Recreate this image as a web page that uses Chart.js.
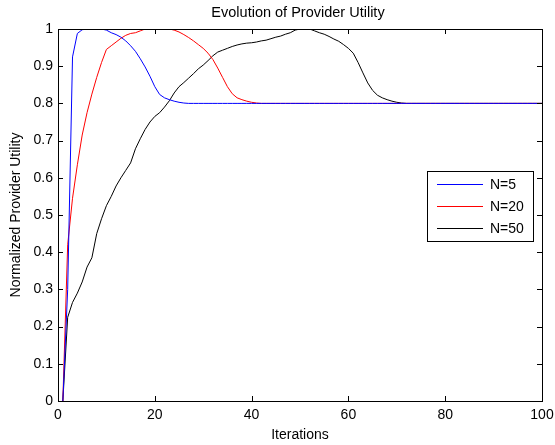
<!DOCTYPE html>
<html>
<head>
<meta charset="utf-8">
<script src="https://cdn.jsdelivr.net/npm/chart.js@4"></script>
<style>
html,body{margin:0;padding:0;background:#fff;}
canvas{display:block;}
</style>
</head>
<body>
<canvas id="c" width="555" height="445"></canvas>
<script>
const iterations = [];
for (let i = 1; i <= 100; i++) iterations.push(i);

const seriesLabels = ['N=5', 'N=20', 'N=50'];
const seriesColors = ['#0000ff', '#ff0000', '#000000'];

const utilN5 = [
  0, 0.30, 0.925, 0.988, 0.998, 1.0, 1.0, 1.0, 1.0, 0.997,
  0.99, 0.985, 0.978, 0.968, 0.955, 0.94, 0.92, 0.898, 0.873, 0.845,
  0.824, 0.815, 0.81, 0.806, 0.803, 0.801, 0.8, 0.8, 0.8, 0.8,
  0.8, 0.8, 0.8, 0.8, 0.8, 0.8, 0.8, 0.8, 0.8, 0.8,
  0.8, 0.8, 0.8, 0.8, 0.8, 0.8, 0.8, 0.8, 0.8, 0.8,
  0.8, 0.8, 0.8, 0.8, 0.8, 0.8, 0.8, 0.8, 0.8, 0.8,
  0.8, 0.8, 0.8, 0.8, 0.8, 0.8, 0.8, 0.8, 0.8, 0.8,
  0.8, 0.8, 0.8, 0.8, 0.8, 0.8, 0.8, 0.8, 0.8, 0.8,
  0.8, 0.8, 0.8, 0.8, 0.8, 0.8, 0.8, 0.8, 0.8, 0.8,
  0.8, 0.8, 0.8, 0.8, 0.8, 0.8, 0.8, 0.8, 0.8, 0.8
];

const utilN20 = [
  0, 0.42, 0.545, 0.635, 0.715, 0.775, 0.825, 0.87, 0.91, 0.945,
  0.955, 0.965, 0.975, 0.983, 0.988, 0.99, 0.995, 1.0, 1.0, 1.0,
  1.0, 1.0, 1.0, 0.997, 0.992, 0.985, 0.977, 0.968, 0.958, 0.948,
  0.935, 0.918, 0.895, 0.87, 0.845, 0.826, 0.815, 0.81, 0.806, 0.803,
  0.801, 0.8, 0.8, 0.8, 0.8, 0.8, 0.8, 0.8, 0.8, 0.8,
  0.8, 0.8, 0.8, 0.8, 0.8, 0.8, 0.8, 0.8, 0.8, 0.8,
  0.8, 0.8, 0.8, 0.8, 0.8, 0.8, 0.8, 0.8, 0.8, 0.8,
  0.8, 0.8, 0.8, 0.8, 0.8, 0.8, 0.8, 0.8, 0.8, 0.8,
  0.8, 0.8, 0.8, 0.8, 0.8, 0.8, 0.8, 0.8, 0.8, 0.8,
  0.8, 0.8, 0.8, 0.8, 0.8, 0.8, 0.8, 0.8, 0.8, 0.8
];

const utilN50 = [
  0, 0.225, 0.265, 0.29, 0.32, 0.36, 0.385, 0.45, 0.49, 0.525,
  0.55, 0.578, 0.6, 0.62, 0.64, 0.678, 0.705, 0.73, 0.75, 0.765,
  0.775, 0.79, 0.807, 0.828, 0.845, 0.856, 0.868, 0.88, 0.893, 0.903,
  0.915, 0.928, 0.938, 0.943, 0.948, 0.953, 0.957, 0.96, 0.962, 0.963,
  0.965, 0.968, 0.97, 0.974, 0.978, 0.981, 0.986, 0.99, 0.997, 1.0,
  1.0, 1.0, 0.995, 0.99, 0.986, 0.98, 0.973, 0.967, 0.958, 0.948,
  0.935, 0.91, 0.882, 0.855, 0.835, 0.822, 0.815, 0.81, 0.806, 0.803,
  0.801, 0.8, 0.8, 0.8, 0.8, 0.8, 0.8, 0.8, 0.8, 0.8,
  0.8, 0.8, 0.8, 0.8, 0.8, 0.8, 0.8, 0.8, 0.8, 0.8,
  0.8, 0.8, 0.8, 0.8, 0.8, 0.8, 0.8, 0.8, 0.8, 0.8
];

const xTickLabels = ['0', '20', '40', '60', '80', '100'];
const yTickLabels = ['0', '0.1', '0.2', '0.3', '0.4', '0.5', '0.6', '0.7', '0.8', '0.9', '1'];

const titleText = 'Evolution of Provider Utility';
const xTitle = 'Iterations';
const yTitle = 'Normalized Provider Utility';

const FONT = '"Liberation Sans", Arial, Helvetica, sans-serif';

function pts(vals) { return vals.map((v, i) => ({ x: iterations[i], y: v })); }

const boxPlugin = {
  id: 'matlabBox',
  afterDatasetsDraw(chart) {
    const { ctx, chartArea: a, scales } = chart;
    const xs = scales.x, ys = scales.y;
    ctx.save();
    ctx.strokeStyle = '#000';
    ctx.lineWidth = 1;
    // inward ticks
    ctx.beginPath();
    xs.ticks.forEach(t => {
      const px = Math.round(xs.getPixelForValue(t.value)) + 0.5;
      ctx.moveTo(px, a.bottom); ctx.lineTo(px, a.bottom - 5);
      ctx.moveTo(px, a.top); ctx.lineTo(px, a.top + 5);
    });
    ys.ticks.forEach(t => {
      const py = Math.round(ys.getPixelForValue(t.value)) + 0.5;
      ctx.moveTo(a.left, py); ctx.lineTo(a.left + 5, py);
      ctx.moveTo(a.right, py); ctx.lineTo(a.right - 5, py);
    });
    ctx.stroke();
    // box
    ctx.strokeRect(Math.round(a.left) + 0.5, Math.round(a.top) + 0.5,
      Math.round(a.right - a.left), Math.round(a.bottom - a.top));
    // title
    ctx.fillStyle = '#000';
    ctx.font = '14.5px ' + FONT;
    ctx.textAlign = 'center';
    ctx.textBaseline = 'alphabetic';
    ctx.fillText(titleText, (a.left + a.right) / 2 - 2, 17);
    // legend
    const lx = 427.5, ly = 171.5, lw = 106, lh = 70;
    ctx.fillStyle = '#fff';
    ctx.fillRect(lx, ly, lw, lh);
    ctx.strokeRect(lx, ly, lw, lh);
    const rows = [184.5, 206.5, 228.5];
    ctx.font = '14px ' + FONT;
    ctx.textBaseline = 'middle';
    ctx.textAlign = 'left';
    chart.data.datasets.forEach((ds, i) => {
      ctx.strokeStyle = ds.borderColor;
      ctx.beginPath();
      ctx.moveTo(437, rows[i]); ctx.lineTo(483, rows[i]);
      ctx.stroke();
      ctx.fillStyle = '#000';
      ctx.fillText(ds.label, 490, rows[i] + 0.5);
    });
    ctx.restore();
  }
};

new Chart(document.getElementById('c'), {
  type: 'line',
  data: {
    datasets: [
      { label: seriesLabels[0], data: pts(utilN5), borderColor: seriesColors[0] },
      { label: seriesLabels[1], data: pts(utilN20), borderColor: seriesColors[1] },
      { label: seriesLabels[2], data: pts(utilN50), borderColor: seriesColors[2] }
    ]
  },
  options: {
    responsive: false,
    animation: false,
    devicePixelRatio: 1,
    layout: { padding: { left: 0, right: 13, top: 29, bottom: 0 } },
    elements: {
      line: { borderWidth: 1, tension: 0, fill: false },
      point: { radius: 0, hoverRadius: 0 }
    },
    plugins: {
      legend: { display: false },
      tooltip: { enabled: false },
      title: { display: false }
    },
    scales: {
      x: {
        type: 'linear',
        min: 0, max: 100,
        grid: { display: false, drawTicks: false },
        border: { display: false },
        ticks: {
          stepSize: 20,
          padding: 6,
          color: '#000',
          maxRotation: 0,
          font: { family: FONT, size: 14 },
          callback: (v, i) => xTickLabels[i]
        },
        title: {
          display: true, text: xTitle, color: '#000',
          font: { family: FONT, size: 14, lineHeight: 1.2 },
          padding: { top: 0, bottom: 1.6 }
        },
        afterFit(s) { s.height = 44; s.paddingLeft = 0; s.paddingRight = 0; }
      },
      y: {
        type: 'linear',
        min: 0, max: 1,
        grid: { display: false, drawTicks: false },
        border: { display: false },
        ticks: {
          stepSize: 0.1,
          padding: 5,
          color: '#000',
          font: { family: FONT, size: 14 },
          callback: (v, i) => yTickLabels[i]
        },
        title: {
          display: true, text: yTitle, color: '#000',
          font: { family: FONT, size: 14, lineHeight: 1.2 },
          padding: { top: 7.6, bottom: 0 }
        },
        afterFit(s) { s.width = 58; s.paddingTop = 0; s.paddingBottom = 0; }
      }
    }
  },
  plugins: [boxPlugin]
});
</script>
</body>
</html>
